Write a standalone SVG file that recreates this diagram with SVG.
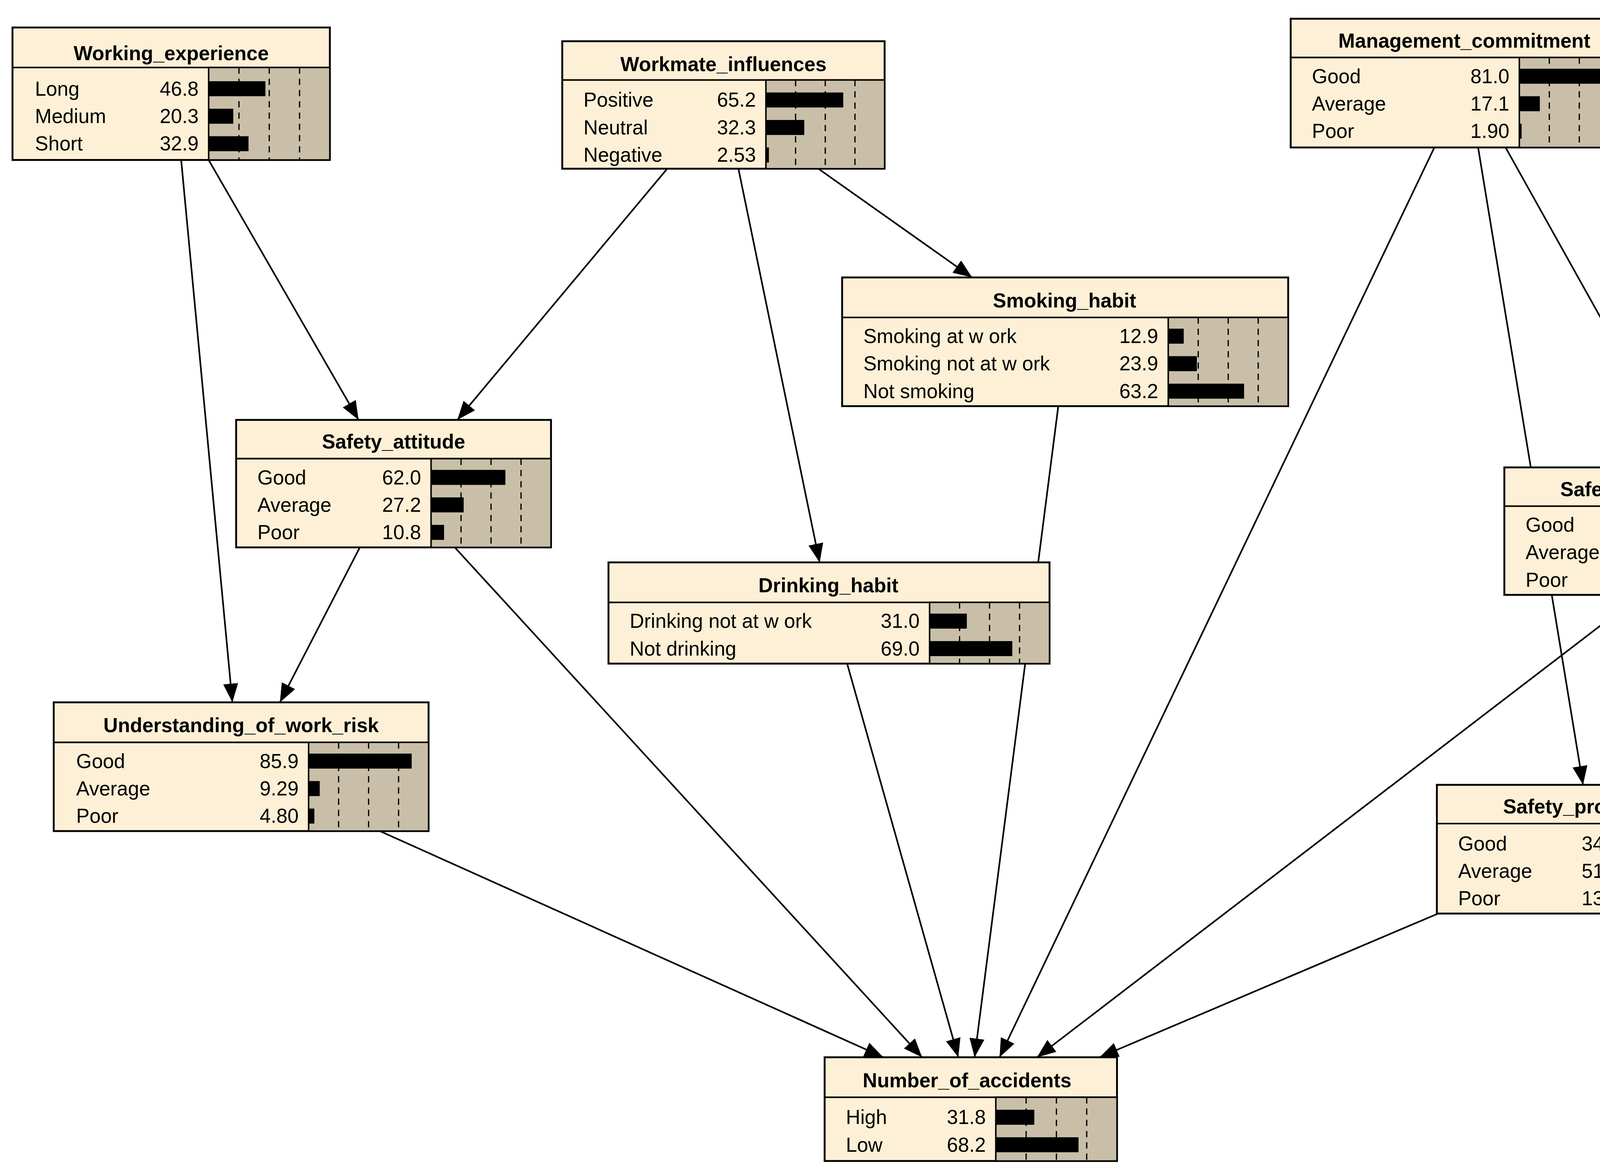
<svg xmlns="http://www.w3.org/2000/svg" width="4993" height="2987" viewBox="0 0 4993 2987">
<style>
.bg{fill:#fdf0d6;stroke:#000;stroke-width:1.5}
.ba{fill:#c9bfa9;stroke:#000;stroke-width:1.2}
.dl{stroke:#000;stroke-width:1;stroke-dasharray:5,4}
.bar{fill:#000}
.t{font-family:"Liberation Sans",Arial,sans-serif;font-size:16px;font-weight:bold;text-anchor:middle}
.s{font-family:"Liberation Sans",Arial,sans-serif;font-size:16px}
.v{font-family:"Liberation Sans",Arial,sans-serif;font-size:16px;text-anchor:end}
.e{stroke:#000;stroke-width:1.3;fill:none}
</style>
<defs><marker id="ah" markerUnits="userSpaceOnUse" markerWidth="16" markerHeight="12" refX="15" refY="6" orient="auto"><path d="M0,0 L15,6 L0,12 z" fill="#000"/></marker></defs>
<rect width="4993" height="2987" fill="#fff"/>
<svg x="0" y="0" width="4993" height="2987" viewBox="0 0 1561 933.8" preserveAspectRatio="none">
<g id="connectors">
<line class="e" x1="145" y1="128" x2="186" y2="562" marker-end="url(#ah)"/>
<line class="e" x1="167" y1="128" x2="287" y2="336" marker-end="url(#ah)"/>
<line class="e" x1="534" y1="135" x2="366" y2="336" marker-end="url(#ah)"/>
<line class="e" x1="591" y1="135" x2="656" y2="450" marker-end="url(#ah)"/>
<line class="e" x1="655" y1="135" x2="778" y2="222" marker-end="url(#ah)"/>
<line class="e" x1="1148" y1="118" x2="800" y2="846" marker-end="url(#ah)"/>
<line class="e" x1="1183" y1="118" x2="1267" y2="628" marker-end="url(#ah)"/>
<line class="e" x1="1205" y1="118" x2="1348" y2="374" marker-end="url(#ah)"/>
<line class="e" x1="847" y1="325" x2="780" y2="846" marker-end="url(#ah)"/>
<line class="e" x1="678" y1="531" x2="767" y2="846" marker-end="url(#ah)"/>
<line class="e" x1="364" y1="438" x2="738" y2="846" marker-end="url(#ah)"/>
<line class="e" x1="304" y1="665" x2="707" y2="846" marker-end="url(#ah)"/>
<line class="e" x1="288" y1="438" x2="224" y2="562" marker-end="url(#ah)"/>
<line class="e" x1="1358" y1="476" x2="1302" y2="628" marker-end="url(#ah)"/>
<line class="e" x1="1313" y1="476" x2="830" y2="846" marker-end="url(#ah)"/>
<line class="e" x1="1151" y1="731" x2="880" y2="846" marker-end="url(#ah)"/>
</g>

<g id="Working_experience">
<rect class="bg" x="10" y="22" width="254" height="106"/>
<line class="e" x1="10" y1="54" x2="264" y2="54"/>
<rect class="ba" x="167" y="54" width="97" height="74"/>
<line class="dl" x1="191.25" y1="54" x2="191.25" y2="128"/><line class="dl" x1="215.5" y1="54" x2="215.5" y2="128"/><line class="dl" x1="239.75" y1="54" x2="239.75" y2="128"/>
<rect class="bar" x="167" y="65" width="45.4" height="12"/><rect class="bar" x="167" y="87" width="19.7" height="12"/><rect class="bar" x="167" y="109" width="31.9" height="12"/>
<text class="t" x="137" y="48">Working_experience</text>
<text class="s" x="28" y="76.5">Long</text><text class="v" x="159" y="76.5">46.8</text>
<text class="s" x="28" y="98.5">Medium</text><text class="v" x="159" y="98.5">20.3</text>
<text class="s" x="28" y="120.5">Short</text><text class="v" x="159" y="120.5">32.9</text>
</g>

<g id="Workmate_influences">
<rect class="bg" x="450" y="33" width="258" height="102"/>
<line class="e" x1="450" y1="64" x2="708" y2="64"/>
<rect class="ba" x="613" y="64" width="95" height="71"/>
<line class="dl" x1="636.75" y1="64" x2="636.75" y2="135"/><line class="dl" x1="660.5" y1="64" x2="660.5" y2="135"/><line class="dl" x1="684.25" y1="64" x2="684.25" y2="135"/>
<rect class="bar" x="613" y="74" width="61.9" height="12"/><rect class="bar" x="613" y="96" width="30.7" height="12"/><rect class="bar" x="613" y="118" width="2.4" height="12"/>
<text class="t" x="579" y="57">Workmate_influences</text>
<text class="s" x="467" y="85.5">Positive</text><text class="v" x="605" y="85.5">65.2</text>
<text class="s" x="467" y="107.5">Neutral</text><text class="v" x="605" y="107.5">32.3</text>
<text class="s" x="467" y="129.5">Negative</text><text class="v" x="605" y="129.5">2.53</text>
</g>

<g id="Management_commitment">
<rect class="bg" x="1033" y="15" width="279" height="103"/>
<line class="e" x1="1033" y1="46" x2="1312" y2="46"/>
<rect class="ba" x="1216" y="46" width="96" height="72"/>
<line class="dl" x1="1240" y1="46" x2="1240" y2="118"/><line class="dl" x1="1264" y1="46" x2="1264" y2="118"/><line class="dl" x1="1288" y1="46" x2="1288" y2="118"/>
<rect class="bar" x="1216" y="55" width="77.8" height="12"/><rect class="bar" x="1216" y="77" width="16.4" height="12"/><rect class="bar" x="1216" y="99" width="1.8" height="12"/>
<text class="t" x="1172" y="38">Management_commitment</text>
<text class="s" x="1050" y="66.5">Good</text><text class="v" x="1208" y="66.5">81.0</text>
<text class="s" x="1050" y="88.5">Average</text><text class="v" x="1208" y="88.5">17.1</text>
<text class="s" x="1050" y="110.5">Poor</text><text class="v" x="1208" y="110.5">1.90</text>
</g>

<g id="Smoking_habit">
<rect class="bg" x="674" y="222" width="357" height="103"/>
<line class="e" x1="674" y1="254" x2="1031" y2="254"/>
<rect class="ba" x="935" y="254" width="96" height="71"/>
<line class="dl" x1="959" y1="254" x2="959" y2="325"/><line class="dl" x1="983" y1="254" x2="983" y2="325"/><line class="dl" x1="1007" y1="254" x2="1007" y2="325"/>
<rect class="bar" x="935" y="263" width="12.4" height="12"/><rect class="bar" x="935" y="285" width="22.9" height="12"/><rect class="bar" x="935" y="307" width="60.7" height="12"/>
<text class="t" x="852" y="246">Smoking_habit</text>
<text class="s" x="691" y="274.5">Smoking at w ork</text><text class="v" x="927" y="274.5">12.9</text>
<text class="s" x="691" y="296.5">Smoking not at w ork</text><text class="v" x="927" y="296.5">23.9</text>
<text class="s" x="691" y="318.5">Not smoking</text><text class="v" x="927" y="318.5">63.2</text>
</g>

<g id="Safety_attitude">
<rect class="bg" x="189" y="336" width="252" height="102"/>
<line class="e" x1="189" y1="367" x2="441" y2="367"/>
<rect class="ba" x="345" y="367" width="96" height="71"/>
<line class="dl" x1="369" y1="367" x2="369" y2="438"/><line class="dl" x1="393" y1="367" x2="393" y2="438"/><line class="dl" x1="417" y1="367" x2="417" y2="438"/>
<rect class="bar" x="345" y="376" width="59.5" height="12"/><rect class="bar" x="345" y="398" width="26.1" height="12"/><rect class="bar" x="345" y="420" width="10.4" height="12"/>
<text class="t" x="315" y="359">Safety_attitude</text>
<text class="s" x="206" y="387.5">Good</text><text class="v" x="337" y="387.5">62.0</text>
<text class="s" x="206" y="409.5">Average</text><text class="v" x="337" y="409.5">27.2</text>
<text class="s" x="206" y="431.5">Poor</text><text class="v" x="337" y="431.5">10.8</text>
</g>

<g id="Drinking_habit">
<rect class="bg" x="487" y="450" width="353" height="81"/>
<line class="e" x1="487" y1="482" x2="840" y2="482"/>
<rect class="ba" x="744" y="482" width="96" height="49"/>
<line class="dl" x1="768" y1="482" x2="768" y2="531"/><line class="dl" x1="792" y1="482" x2="792" y2="531"/><line class="dl" x1="816" y1="482" x2="816" y2="531"/>
<rect class="bar" x="744" y="491" width="29.8" height="12"/><rect class="bar" x="744" y="513" width="66.2" height="12"/>
<text class="t" x="663" y="474">Drinking_habit</text>
<text class="s" x="504" y="502.5">Drinking not at w ork</text><text class="v" x="736" y="502.5">31.0</text>
<text class="s" x="504" y="524.5">Not drinking</text><text class="v" x="736" y="524.5">69.0</text>
</g>

<g id="Safety_resources_and_equipment">
<rect class="bg" x="1204" y="374" width="350" height="102"/>
<line class="e" x1="1204" y1="405" x2="1554" y2="405"/>
<rect class="ba" x="1457" y="405" width="97" height="71"/>
<line class="dl" x1="1481.25" y1="405" x2="1481.25" y2="476"/><line class="dl" x1="1505.5" y1="405" x2="1505.5" y2="476"/><line class="dl" x1="1529.75" y1="405" x2="1529.75" y2="476"/>
<rect class="bar" x="1457" y="414" width="85" height="12"/><rect class="bar" x="1457" y="436" width="10.5" height="12"/><rect class="bar" x="1457" y="458" width="1.5" height="12"/>
<text class="t" x="1379" y="397">Safety_resources_and_equipment</text>
<text class="s" x="1221" y="425.5">Good</text><text class="v" x="1449" y="425.5">87.6</text>
<text class="s" x="1221" y="447.5">Average</text><text class="v" x="1449" y="447.5">10.8</text>
<text class="s" x="1221" y="469.5">Poor</text><text class="v" x="1449" y="469.5">1.59</text>
</g>

<g id="Understanding_of_work_risk">
<rect class="bg" x="43" y="562" width="300" height="103"/>
<line class="e" x1="43" y1="594" x2="343" y2="594"/>
<rect class="ba" x="247" y="594" width="96" height="71"/>
<line class="dl" x1="271" y1="594" x2="271" y2="665"/><line class="dl" x1="295" y1="594" x2="295" y2="665"/><line class="dl" x1="319" y1="594" x2="319" y2="665"/>
<rect class="bar" x="247" y="603" width="82.5" height="12"/><rect class="bar" x="247" y="625" width="8.9" height="12"/><rect class="bar" x="247" y="647" width="4.6" height="12"/>
<text class="t" x="193" y="586">Understanding_of_work_risk</text>
<text class="s" x="61" y="614.5">Good</text><text class="v" x="239" y="614.5">85.9</text>
<text class="s" x="61" y="636.5">Average</text><text class="v" x="239" y="636.5">9.29</text>
<text class="s" x="61" y="658.5">Poor</text><text class="v" x="239" y="658.5">4.80</text>
</g>

<g id="Safety_procedures">
<rect class="bg" x="1150" y="628" width="251" height="103"/>
<line class="e" x1="1150" y1="659" x2="1401" y2="659"/>
<rect class="ba" x="1305" y="659" width="96" height="72"/>
<line class="dl" x1="1329" y1="659" x2="1329" y2="731"/><line class="dl" x1="1353" y1="659" x2="1353" y2="731"/><line class="dl" x1="1377" y1="659" x2="1377" y2="731"/>
<rect class="bar" x="1305" y="669" width="33.2" height="12"/><rect class="bar" x="1305" y="691" width="49.7" height="12"/><rect class="bar" x="1305" y="713" width="13.1" height="12"/>
<text class="t" x="1275" y="651">Safety_procedures</text>
<text class="s" x="1167" y="680.5">Good</text><text class="v" x="1297" y="680.5">34.6</text>
<text class="s" x="1167" y="702.5">Average</text><text class="v" x="1297" y="702.5">51.8</text>
<text class="s" x="1167" y="724.5">Poor</text><text class="v" x="1297" y="724.5">13.6</text>
</g>

<g id="Number_of_accidents">
<rect class="bg" x="660" y="846" width="234" height="83"/>
<line class="e" x1="660" y1="878" x2="894" y2="878"/>
<rect class="ba" x="797" y="878" width="97" height="51"/>
<line class="dl" x1="821.25" y1="878" x2="821.25" y2="929"/><line class="dl" x1="845.5" y1="878" x2="845.5" y2="929"/><line class="dl" x1="869.75" y1="878" x2="869.75" y2="929"/>
<rect class="bar" x="797" y="888" width="30.8" height="12"/><rect class="bar" x="797" y="910" width="66.2" height="12"/>
<text class="t" x="774" y="870">Number_of_accidents</text>
<text class="s" x="677" y="899.5">High</text><text class="v" x="789" y="899.5">31.8</text>
<text class="s" x="677" y="921.5">Low</text><text class="v" x="789" y="921.5">68.2</text>
</g>
</svg>
</svg>
